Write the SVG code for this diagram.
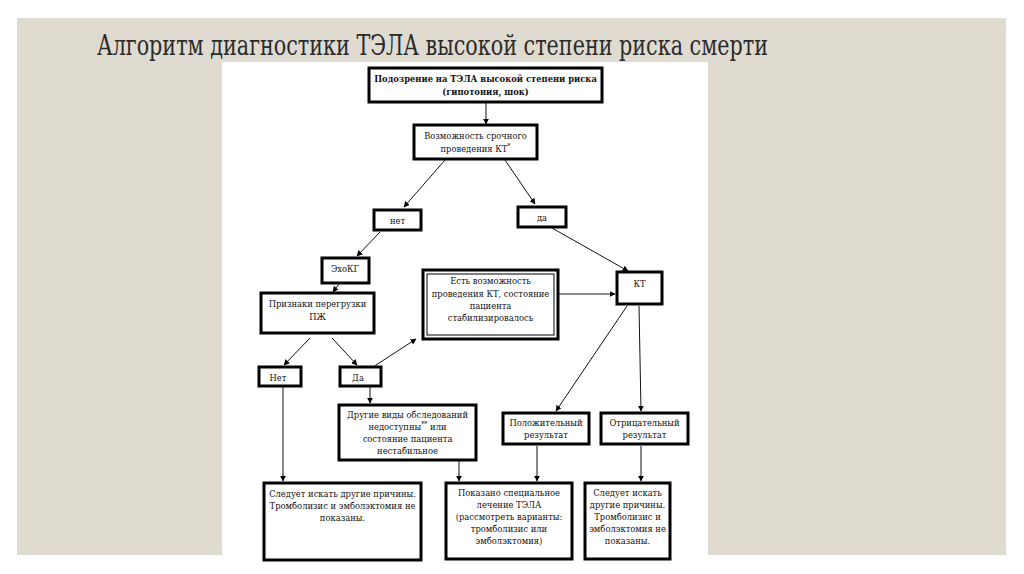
<svg xmlns="http://www.w3.org/2000/svg" width="1024" height="574" viewBox="0 0 1024 574">
<defs>
<marker id="ah" viewBox="0 0 10 10" refX="9" refY="5" markerWidth="6" markerHeight="6" orient="auto" markerUnits="userSpaceOnUse">
<path d="M0,0 L10,5 L0,10 z" fill="#000"/>
</marker>
<style>
.bx{fill:#fff;stroke:#000;stroke-width:3}
.thin{fill:none;stroke:#000;stroke-width:1}
.t{font-family:'DejaVu Serif Condensed','DejaVu Serif',serif;font-stretch:condensed;font-size:9.3px;fill:#111;text-anchor:middle}
.b{font-weight:bold}
.c{stroke:#111;stroke-width:1;fill:none;marker-end:url(#ah)}
</style>
</defs>
<rect x="0" y="0" width="1024" height="574" fill="#fff"/>
<rect x="17" y="18" width="989" height="537" fill="#dfdbd0"/>
<text x="97" y="55" font-family="DejaVu Serif Condensed, DejaVu Serif, serif" font-stretch="condensed" font-size="27" fill="#2b2b2b" textLength="671" lengthAdjust="spacingAndGlyphs">Алгоритм диагностики ТЭЛА высокой степени риска смерти</text>
<rect x="222" y="62" width="486" height="512" fill="#fff"/>

<g id="n1"><rect class="bx" x="369" y="68" width="233" height="34"/>
<text class="t b" x="485.5" y="82">Подозрение на ТЭЛА высокой степени риска</text>
<text class="t b" x="485.5" y="95">(гипотония, шок)</text></g>

<g id="n2"><rect class="bx" x="414" y="125" width="123" height="34"/>
<text class="t" x="475.5" y="139">Возможность срочного</text>
<text class="t" x="475.5" y="152">проведения КТ<tspan font-size="7" dy="-4">*</tspan></text></g>

<g id="n3"><rect class="bx" x="374" y="210" width="47" height="20"/>
<text class="t" x="397.5" y="224">нет</text></g>

<g id="n4"><rect class="bx" x="518" y="207" width="48" height="20"/>
<text class="t" x="542" y="221">да</text></g>

<g id="n5"><rect class="bx" x="322" y="258" width="47" height="25"/>
<text class="t" x="345" y="272">ЭхоКГ</text></g>

<g id="n6"><rect class="bx" x="261" y="293" width="113" height="40"/>
<text class="t" x="317.5" y="307">Признаки перегрузки</text>
<text class="t" x="317.5" y="320">ПЖ</text></g>

<g id="n7"><rect class="bx" x="423" y="270" width="135" height="69"/>
<rect class="thin" x="427" y="274" width="127" height="61"/>
<text class="t" x="490.5" y="284">Есть возможность</text>
<text class="t" x="490.5" y="297">проведения КТ, состояние</text>
<text class="t" x="490.5" y="309">пациента</text>
<text class="t" x="490.5" y="321">стабилизировалось</text></g>

<g id="n8"><rect class="bx" x="617" y="272" width="45" height="32"/>
<text class="t" x="639.5" y="287">КТ</text></g>

<g id="n9"><rect class="bx" x="259" y="367" width="42" height="19"/>
<text class="t" x="278" y="381">Нет</text></g>

<g id="n10"><rect class="bx" x="340" y="367" width="41" height="19"/>
<text class="t" x="358" y="381">Да</text></g>

<g id="n11"><rect class="bx" x="339" y="405" width="137" height="55"/>
<text class="t" x="407.5" y="418">Другие виды обследований</text>
<text class="t" x="407.5" y="430">недоступны<tspan font-size="7" dy="-4">**</tspan><tspan dy="4"> или</tspan></text>
<text class="t" x="407.5" y="442">состояние пациента</text>
<text class="t" x="407.5" y="454">нестабильное</text></g>

<g id="n12"><rect class="bx" x="503" y="413" width="86" height="31"/>
<text class="t" x="546" y="426">Положительный</text>
<text class="t" x="546" y="438">результат</text></g>

<g id="n13"><rect class="bx" x="601" y="413" width="87" height="31"/>
<text class="t" x="644.5" y="426">Отрицательный</text>
<text class="t" x="644.5" y="438">результат</text></g>

<g id="n14"><rect class="bx" x="264" y="483" width="157" height="77"/>
<text class="t" x="342.5" y="497">Следует искать другие причины.</text>
<text class="t" x="342.5" y="509">Тромболизис и эмболэктомия не</text>
<text class="t" x="342.5" y="521">показаны.</text></g>

<g id="n15"><rect class="bx" x="446" y="483" width="126" height="76"/>
<text class="t" x="509" y="496">Показано специальное</text>
<text class="t" x="509" y="508">лечение ТЭЛА</text>
<text class="t" x="509" y="520">(рассмотреть варианты:</text>
<text class="t" x="509" y="532">тромболизис или</text>
<text class="t" x="509" y="544">эмболэктомия)</text></g>

<g id="n16"><rect class="bx" x="585" y="483" width="85" height="76"/>
<text class="t" x="627.5" y="496">Следует искать</text>
<text class="t" x="627.5" y="508">другие причины.</text>
<text class="t" x="627.5" y="520">Тромболизис и</text>
<text class="t" x="627.5" y="532">эмболэктомия не</text>
<text class="t" x="627.5" y="544">показаны.</text></g>

<g id="connectors">
<path class="c" d="M486,103 L486,124"/>
<path class="c" d="M445,160 L404,207"/>
<path class="c" d="M505,160 L535,204"/>
<path class="c" d="M552,228 L628,271"/>
<path class="c" d="M380,232 L357,256"/>
<path class="c" d="M339,284 L333,292"/>
<path class="c" d="M310,338 L284,365"/>
<path class="c" d="M332,338 L357,365"/>
<path class="c" d="M373,367 L416,339"/>
<path class="c" d="M559,294 L615,294"/>
<path class="c" d="M627,306 L556,411"/>
<path class="c" d="M639,306 L641,411"/>
<path class="c" d="M370,387 L370,403"/>
<path class="c" d="M283,387 L283,481"/>
<path class="c" d="M459,461 L459,481"/>
<path class="c" d="M537,446 L537,481"/>
<path class="c" d="M641,446 L641,481"/>
</g>
</svg>
